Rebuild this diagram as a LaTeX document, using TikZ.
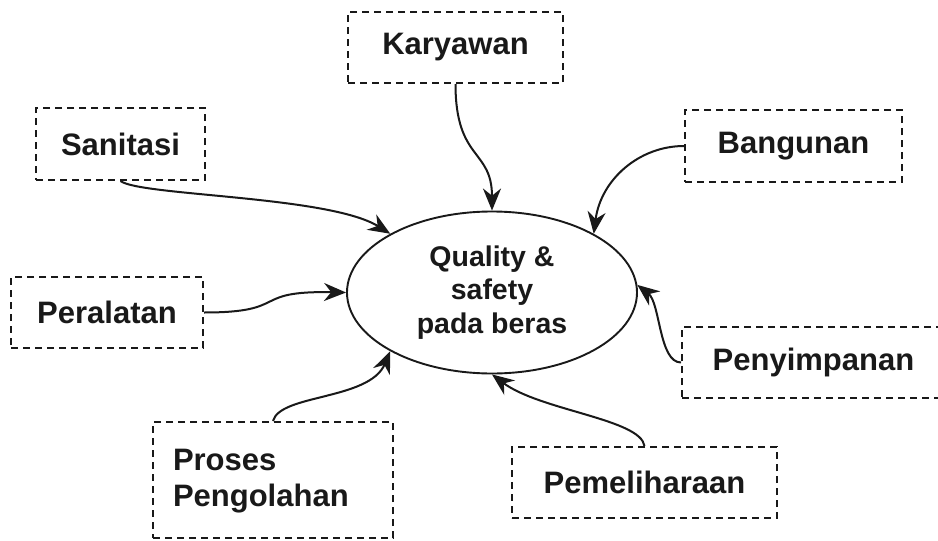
\documentclass[tikz,border=0pt]{standalone}
\usepackage{fontspec}
\setmainfont{Liberation Sans}
\usepackage{tikz}
\usetikzlibrary{positioning}
\usetikzlibrary{shapes.geometric}
\usetikzlibrary{arrows.meta}
\newlength{\FactorFigureUnit}
\setlength{\FactorFigureUnit}{1pt}
\newcommand{\FactorBoxFont}{\fontsize{31pt}{36pt}\selectfont\bfseries}
\newcommand{\QualityCoreFont}{\fontsize{28.5pt}{33.5pt}\selectfont\bfseries}

\begin{document}
\begin{tikzpicture}[x=\FactorFigureUnit,y=-\FactorFigureUnit]
                \tikzset{
                    factor box/.style={draw=black!90, line width=2pt,
                        dash pattern=on 7pt off 5pt, rectangle, inner sep=0pt,
                        minimum height=71pt, font=\FactorBoxFont, text=black!90},
                    quality core/.style={draw=black!90, line width=1.9pt, ellipse,
                        minimum width=290pt, minimum height=162pt, inner sep=0pt,
                        align=center, font=\QualityCoreFont, text=black!90},
                    factor flow/.style={-{Stealth[length=22pt,width=18pt]},
                        line width=2pt, draw=black!90}
                }
                \useasboundingbox[fill=white] (0,0) rectangle (938,541);
                % centre of the picture
                \node[quality core] (quality-safety) at (492,292.5)
                    {Quality \&\\safety\\pada beras};
                % factors round it
                \node[factor box, minimum width=215pt] (factor-karyawan) at (455.5,47.5) {Karyawan};
                \node[factor box, minimum width=169pt, minimum height=72pt] (factor-sanitasi) at (120.5,144) {Sanitasi};
                \node[factor box, minimum width=192pt] (factor-peralatan) at (107,312.5) {Peralatan};
                \node[factor box, minimum width=240pt, minimum height=116pt, align=left,
                    text depth=40pt, text width=200pt] (factor-proses) at (273,480) {Proses\\Pengolahan};
                \node[factor box, minimum width=265pt] (factor-pemeliharaan) at (644.5,482.5) {Pemeliharaan};
                \node[factor box, minimum width=217pt, minimum height=72pt] (factor-bangunan) at (793.5,146) {Bangunan};
                \node[factor box, minimum width=263pt] (factor-penyimpanan) at (813.5,362.5) {Penyimpanan};
                % flows into the centre
                \draw[factor flow] (factor-karyawan.south)
                    .. controls +(0,77) and +(0,-62) .. (quality-safety.north);
                \draw[factor flow] (factor-sanitasi.south)
                    .. controls +(20,15) and +(-61,-38) .. (quality-safety.150);
                \draw[factor flow] (factor-peralatan.east)
                    .. controls +(87,0) and +(-97,-2) .. (quality-safety.west);
                \draw[factor flow] (factor-proses.north)
                    .. controls +(7,-27) and +(-21,49) .. (quality-safety.210);
                \draw[factor flow] (factor-pemeliharaan.north)
                    .. controls +(-4,-27) and +(48,36) .. (quality-safety.south);
                \draw[factor flow] (factor-bangunan.west)
                    .. controls +(-45,0) and +(7,-54) .. (quality-safety.30);
                \draw[factor flow] (factor-penyimpanan.west)
                    .. controls +(-22,0) and +(23,18) .. (quality-safety.3);
\end{tikzpicture}
\end{document}
